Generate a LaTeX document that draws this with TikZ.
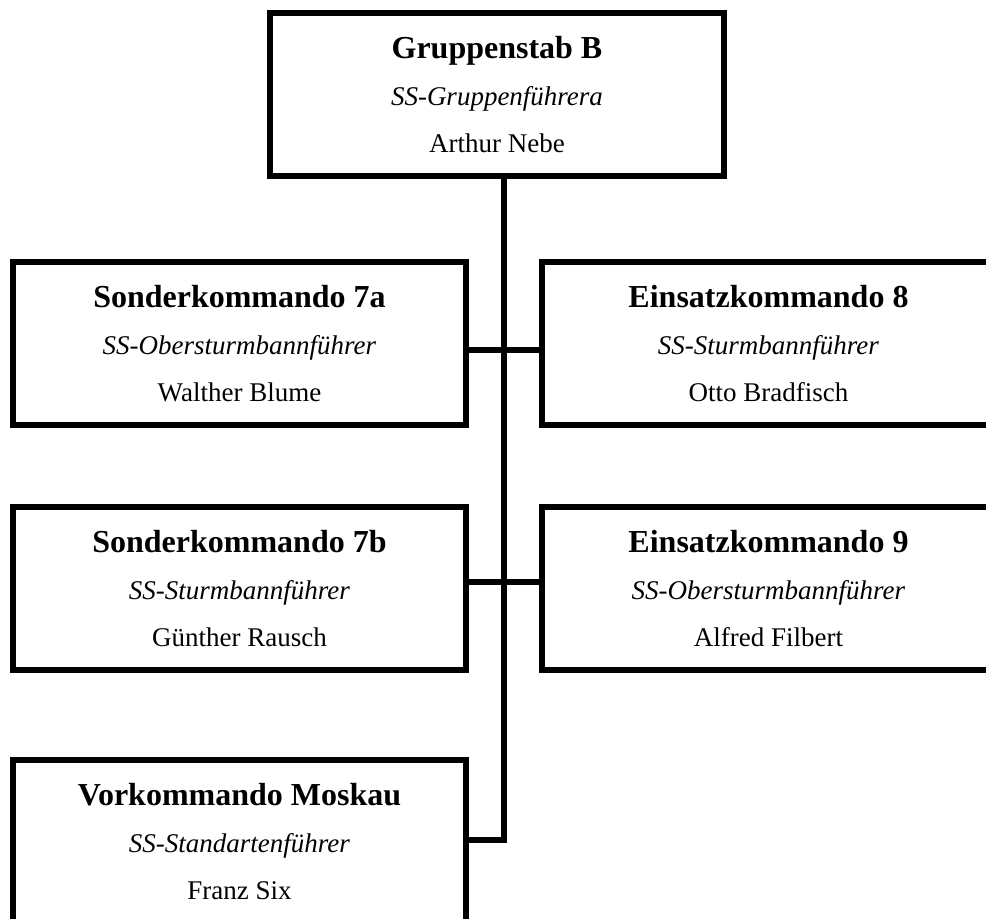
\documentclass[tikz,border=0pt]{standalone}
\usepackage{fontspec}
\setmainfont{Liberation Serif}
\begin{document}
\begin{tikzpicture}[x=1pt,y=-1pt,
  orgbox/.style={draw=black, line width=6pt, fill=white, inner sep=0pt, outer sep=0pt,
    minimum width=453pt, minimum height=163pt, align=center,
    font=\fontsize{27}{47}\selectfont},
  titletext/.style={},
  conn/.style={draw=black, line width=6pt, line join=miter}]
\useasboundingbox (0,0) rectangle (986,919);
\clip (0,0) rectangle (986,919);
\fill[white] (0,0) rectangle (986,919);
% boxes
\node[orgbox, minimum width=454pt] (top) at (497,94.5)
  {{\fontsize{32}{47}\selectfont\bfseries Gruppenstab B}\\\textit{SS-Gruppenführera}\\Arthur Nebe};
\coordinate (spine) at (504,840);
\coordinate (r1) at (504,350);
\coordinate (r2) at (504,582);
\node[orgbox] (sk7a) at (239.5,343.5)
  {{\fontsize{32}{47}\selectfont\bfseries Sonderkommando 7a}\\\textit{SS-Obersturmbannführer}\\Walther Blume};
\node[orgbox] (ek8) at (768.5,343.5)
  {{\fontsize{32}{47}\selectfont\bfseries Einsatzkommando 8}\\\textit{SS-Sturmbannführer}\\Otto Bradfisch};
\node[orgbox] (sk7b) at (239.5,588.5)
  {{\fontsize{32}{47}\selectfont\bfseries Sonderkommando 7b}\\\textit{SS-Sturmbannführer}\\Günther Rausch};
\node[orgbox] (ek9) at (768.5,588.5)
  {{\fontsize{32}{47}\selectfont\bfseries Einsatzkommando 9}\\\textit{SS-Obersturmbannführer}\\Alfred Filbert};
\node[orgbox] (vm) at (239.5,841.5)
  {{\fontsize{32}{47}\selectfont\bfseries Vorkommando Moskau}\\\textit{SS-Standartenführer}\\Franz Six};
% connectors
\draw[conn] (top.south -| spine) -- (spine) -- (vm.east |- spine);
\draw[conn] (sk7a.east |- r1) -- (ek8.west |- r1);
\draw[conn] (sk7b.east |- r2) -- (ek9.west |- r2);
\end{tikzpicture}
\end{document}
